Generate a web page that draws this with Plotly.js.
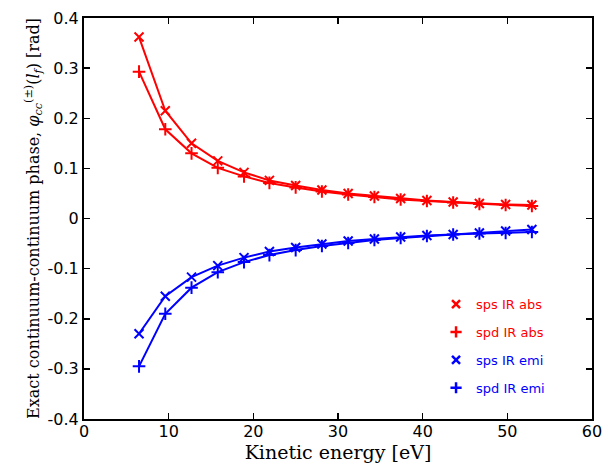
<!DOCTYPE html>
<html><head><meta charset="utf-8">
<script src="https://cdn.plot.ly/plotly-3.0.1.min.js"></script>
<style>body{margin:0;padding:0;background:#fff}#chart{width:605px;height:465px}</style>
</head><body><div id="chart"></div>
<script>
const energy = [6.5, 9.6, 12.7, 15.8, 18.9, 21.9, 25.0, 28.1, 31.2, 34.3, 37.4, 40.5, 43.6, 46.7, 49.8, 52.9];
const spsAbs = [0.362, 0.215, 0.150, 0.115, 0.092, 0.076, 0.066, 0.057, 0.050, 0.045, 0.040, 0.036, 0.033, 0.030, 0.028, 0.027];
const spdAbs = [0.293, 0.178, 0.130, 0.101, 0.084, 0.071, 0.062, 0.054, 0.048, 0.043, 0.038, 0.035, 0.032, 0.029, 0.027, 0.025];
const spsEmi = [-0.230, -0.155, -0.117, -0.094, -0.078, -0.066, -0.058, -0.051, -0.045, -0.041, -0.037, -0.034, -0.032, -0.029, -0.025, -0.022];
const spdEmi = [-0.295, -0.190, -0.138, -0.107, -0.087, -0.073, -0.063, -0.055, -0.049, -0.043, -0.039, -0.035, -0.032, -0.030, -0.029, -0.027];
const names = ['sps IR abs', 'spd IR abs', 'sps IR emi', 'spd IR emi'];
const colors = ['#ff0000', '#ff0000', '#0000ff', '#0000ff'];
const symbols = ['x-thin-open', 'cross-thin-open', 'x-thin-open', 'cross-thin-open'];
const series = [spsAbs, spdAbs, spsEmi, spdEmi];

const traces = [];
series.forEach((ys, i) => {
  traces.push({x: energy, y: ys, mode: 'lines+markers', showlegend: false,
    line: {color: colors[i], width: 2},
    marker: {symbol: symbols[i], size: 9, line: {color: colors[i], width: 2}}});
});
series.forEach((ys, i) => {
  traces.push({x: [null], y: [null], mode: 'markers', legendgroup: 'g' + i,
    name: '<span style="color:' + colors[i] + '">' + names[i] + '</span>',
    marker: {symbol: symbols[i], size: 8, color: colors[i], line: {color: colors[i], width: 2.5}}});
});

const axisCommon = {showgrid: false, zeroline: false, showline: true, linecolor: '#000', linewidth: 2,
  mirror: 'ticks', ticks: 'inside', ticklen: 6, tickwidth: 1.5, tickcolor: '#000',
  tickfont: {family: 'DejaVu Sans', size: 16, color: '#000'}};

const layout = {
  width: 605, height: 465,
  margin: {l: 84, r: 13, t: 18, b: 46},
  paper_bgcolor: '#fff', plot_bgcolor: '#fff',
  xaxis: Object.assign({}, axisCommon, {range: [0, 60], dtick: 10, tick0: 0, ticklabelstandoff: -3,
    title: {text: 'Kinetic energy [eV]', font: {family: 'DejaVu Serif', size: 19, color: '#000'}, standoff: 0}}),
  yaxis: Object.assign({}, axisCommon, {range: [-0.4, 0.4],
    tickvals: [-0.4,-0.3,-0.2,-0.1,0,0.1,0.2,0.3,0.4],
    ticktext: ['-0.4','-0.3','-0.2','-0.1','0','0.1','0.2','0.3','0.4'],
    title: {text: 'Exact continuum-continuum phase, <i>φ</i><sub><i>cc</i></sub><sup>(±)</sup>(<i>l</i><sub><i>f</i></sub>) [rad]',
      font: {family: 'DejaVu Serif', size: 16, color: '#000'}, standoff: 4}}),
  legend: {x: 0.693, y: 0.324, xanchor: 'left', yanchor: 'top', bgcolor: 'rgba(0,0,0,0)',
    font: {family: 'DejaVu Sans', size: 13}, tracegroupgap: 8, itemwidth: 30},
  showlegend: true
};
Plotly.newPlot('chart', traces, layout, {staticPlot: true});
</script></body></html>
